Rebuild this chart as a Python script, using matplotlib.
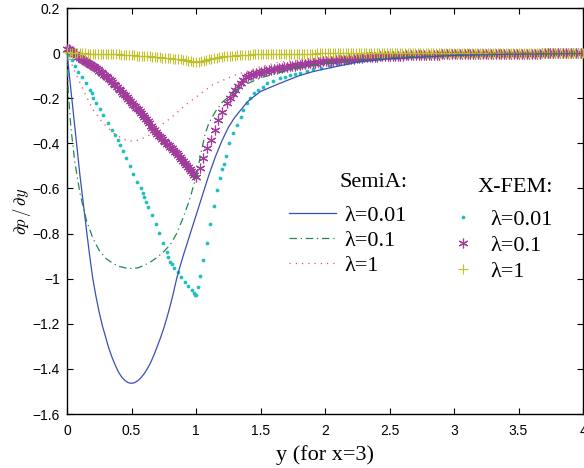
import numpy as np
import matplotlib
matplotlib.use("Agg")
import matplotlib.pyplot as plt
from matplotlib.font_manager import FontProperties

# ---------------- data ----------------
# SemiA (analytical) curves
semi001_x = [0, 0.05, 0.1, 0.15, 0.175,
             0.2, 0.225, 0.25, 0.275, 0.3, 0.325, 0.35, 0.375, 0.4, 0.425,
             0.45, 0.475, 0.5, 0.525, 0.55, 0.575, 0.6, 0.625, 0.65, 0.675,
             0.7, 0.725, 0.75, 0.775, 0.8, 0.825, 0.85, 0.875, 0.9, 0.95,
             1.0, 1.05, 1.1, 1.15, 1.2, 1.25, 1.3,
             1.4, 1.5, 1.65, 1.8, 1.9, 2.0,
             2.25, 2.5, 3.0, 3.5, 4.0]
semi001_y = [0, -0.27, -0.54, -0.78, -0.895,
             -1.0, -1.08, -1.15, -1.21, -1.26, -1.31, -1.35, -1.385, -1.415, -1.437,
             -1.452, -1.461, -1.464, -1.461, -1.452, -1.438, -1.42, -1.397, -1.37, -1.337,
             -1.3, -1.262, -1.22, -1.172, -1.12, -1.063, -1.0, -0.948, -0.9, -0.81,
             -0.72, -0.63, -0.54, -0.46, -0.39, -0.33, -0.285,
             -0.215, -0.17, -0.134, -0.1, -0.083, -0.07,
             -0.04, -0.025, -0.01, -0.004, -0.002]

semi01_x = [0, 0.01, 0.03, 0.06, 0.1, 0.15, 0.2, 0.25, 0.3, 0.35, 0.4, 0.45,
            0.5, 0.55, 0.6, 0.65, 0.7, 0.75, 0.8, 0.85, 0.9, 0.95,
            1.0, 1.04, 1.07, 1.1, 1.15, 1.2, 1.3, 1.4, 1.5, 1.75,
            2.0, 2.5, 3.0, 3.5, 4.0]
semi01_y = [0, -0.17, -0.33, -0.48, -0.62, -0.74, -0.82, -0.875, -0.91, -0.93, -0.945, -0.952,
            -0.955, -0.952, -0.94, -0.925, -0.905, -0.88, -0.85, -0.8, -0.73, -0.65,
            -0.55, -0.44, -0.36, -0.31, -0.26, -0.22, -0.17, -0.135, -0.11, -0.07,
            -0.045, -0.02, -0.008, -0.003, -0.001]

semi1_x = [0, 0.03, 0.075, 0.14, 0.2, 0.28, 0.36, 0.44, 0.5, 0.54, 0.6, 0.64,
           0.7, 0.75, 0.8, 0.85, 0.93, 1.0, 1.13, 1.29, 1.4, 1.5, 1.65, 1.8,
           2.0, 2.5, 3.0, 3.5, 4.0]
semi1_y = [0, -0.04, -0.1, -0.18, -0.25, -0.31, -0.355, -0.382, -0.39, -0.388, -0.375, -0.363,
           -0.335, -0.31, -0.29, -0.265, -0.225, -0.195, -0.14, -0.1, -0.08, -0.06, -0.04, -0.03,
           -0.02, -0.008, -0.003, -0.001, 0]

# X-FEM lambda=0.01 (dots)
fem001_x = [0.0, 0.012, 0.036, 0.062, 0.088, 0.114, 0.147, 0.178, 0.19, 0.204,
            0.225, 0.256, 0.281, 0.315, 0.346, 0.372, 0.398, 0.41, 0.437, 0.457,
            0.485, 0.512, 0.545, 0.571, 0.586, 0.597, 0.612, 0.63, 0.657, 0.687,
            0.713, 0.747, 0.772, 0.786, 0.798, 0.811, 0.832, 0.863, 0.884, 0.915,
            0.94, 0.966, 0.984, 0.995, 1.0, 1.013, 1.03, 1.057, 1.088, 1.112,
            1.138, 1.162, 1.186, 1.2, 1.214, 1.233, 1.258, 1.29, 1.315, 1.346,
            1.367, 1.393, 1.419, 1.45, 1.483, 1.52, 1.553, 1.6, 1.65, 1.69,
            1.73, 1.77, 1.806, 1.86, 1.91, 1.97, 2.04, 2.1, 2.17, 2.22,
            2.27, 2.33, 2.4, 2.47, 2.55, 2.63, 2.72, 2.8, 2.9, 3.0,
            3.1, 3.2, 3.3, 3.4, 3.5, 3.6, 3.7, 3.8, 3.9, 4.0]
fem001_y = [0.0, -0.008, -0.031, -0.058, -0.083, -0.108, -0.134, -0.164, -0.179, -0.197,
            -0.223, -0.25, -0.275, -0.309, -0.341, -0.363, -0.386, -0.408, -0.433, -0.467,
            -0.501, -0.536, -0.57, -0.6, -0.622, -0.637, -0.659, -0.684, -0.718, -0.758,
            -0.799, -0.844, -0.88, -0.906, -0.925, -0.937, -0.952, -0.972, -0.991, -1.014,
            -1.031, -1.05, -1.065, -1.072, -1.074, -1.037, -0.988, -0.918, -0.841, -0.757,
            -0.68, -0.608, -0.553, -0.516, -0.49, -0.455, -0.4, -0.356, -0.319, -0.282,
            -0.253, -0.223, -0.201, -0.179, -0.164, -0.149, -0.134, -0.123, -0.112, -0.104,
            -0.098, -0.091, -0.086, -0.078, -0.072, -0.065, -0.058, -0.05, -0.043, -0.037,
            -0.031, -0.027, -0.023, -0.019, -0.016, -0.013, -0.011, -0.009, -0.007, -0.006,
            -0.005, -0.004, -0.003, -0.003, -0.002, -0.002, -0.001, -0.001, -0.001, 0.0]

# X-FEM lambda=0.1 (asterisks): nodes 0..1 step 0.0125, a few nodes after 1, tail step 0.02
fem01_a_x = np.linspace(0.0, 1.0, 81)
fem01_a_y = [0.02, 0.018, 0.015, 0.01, 0.005, -0.002, -0.01, -0.016, -0.022, -0.027,
             -0.032, -0.036, -0.04, -0.044, -0.048, -0.052, -0.057, -0.062, -0.067, -0.072,
             -0.078, -0.084, -0.09, -0.096, -0.102, -0.108, -0.115, -0.121, -0.128, -0.135,
             -0.142, -0.15, -0.157, -0.165, -0.172, -0.18, -0.187, -0.195, -0.203, -0.212,
             -0.22, -0.228, -0.235, -0.242, -0.25, -0.258, -0.266, -0.275, -0.284, -0.293,
             -0.303, -0.312, -0.322, -0.331, -0.34, -0.349, -0.358, -0.366, -0.374, -0.381,
             -0.388, -0.395, -0.401, -0.408, -0.415, -0.422, -0.43, -0.437, -0.445, -0.452,
             -0.46, -0.468, -0.477, -0.486, -0.495, -0.503, -0.512, -0.521, -0.53, -0.539,
             -0.548]
fem01_b_x = [1.03, 1.057, 1.083, 1.12, 1.147, 1.173, 1.2, 1.238]
fem01_b_y = [-0.511, -0.467, -0.422, -0.386, -0.341, -0.297, -0.26, -0.223]
fem01_c_x = np.linspace(1.265, 3.985, 137)
fem01_c_y = [-0.2, -0.183, -0.165, -0.147, -0.132, -0.12, -0.108, -0.102, -0.097, -0.093,
             -0.09, -0.087, -0.084, -0.081, -0.079, -0.077, -0.074, -0.072, -0.07, -0.068,
             -0.066, -0.063, -0.061, -0.059, -0.057, -0.055, -0.053, -0.051, -0.049, -0.047,
             -0.046, -0.045, -0.043, -0.042, -0.041, -0.039, -0.037, -0.036, -0.035, -0.034,
             -0.033, -0.032, -0.03, -0.029, -0.029, -0.028, -0.027, -0.025, -0.024, -0.023,
             -0.021, -0.02,
             -0.019, -0.018, -0.018, -0.017, -0.016, -0.016, -0.015, -0.014, -0.014, -0.013, -0.013,
             -0.012, -0.012, -0.011, -0.011, -0.011, -0.01, -0.01, -0.01, -0.009, -0.009, -0.009,
             -0.008, -0.008, -0.008, -0.008, -0.007, -0.007, -0.007, -0.007, -0.006, -0.006, -0.006,
             -0.006, -0.005, -0.005, -0.005, -0.005, -0.005, -0.004, -0.004, -0.004, -0.004, -0.004,
             -0.004, -0.003, -0.003, -0.003, -0.003, -0.003, -0.003, -0.003, -0.003, -0.003, -0.002,
             -0.002, -0.002, -0.002, -0.002, -0.002, -0.002, -0.002, -0.002, -0.002, -0.002, -0.002,
             -0.002, -0.002, -0.002, -0.001, -0.001, -0.001, -0.001, -0.001, -0.001, -0.001, -0.001,
             -0.001, -0.001, -0.001, -0.001, -0.001, -0.001, -0.001, -0.001]

# X-FEM lambda=1 (plus), nodes 0..4 step 0.02
fem1_x = np.linspace(0.0, 4.0, 201)
fem1_y = [0.003, 0.002, 0.002, 0.001, 0.0, 0.0, -0.001, -0.001, -0.002, -0.002,
          -0.003, -0.003, -0.003, -0.004, -0.004, -0.004, -0.005, -0.005, -0.006, -0.006,
          -0.006, -0.007, -0.007, -0.008, -0.008, -0.009,
          -0.01, -0.011, -0.011, -0.012, -0.013, -0.014, -0.015, -0.016, -0.017, -0.018,
          -0.019, -0.02, -0.021, -0.022, -0.023, -0.024, -0.025, -0.026, -0.028, -0.03,
          -0.032, -0.034, -0.036, -0.038, -0.04,
          -0.038, -0.035, -0.033, -0.03, -0.028, -0.025, -0.023, -0.021, -0.019, -0.017,
          -0.015, -0.014, -0.013, -0.012, -0.011, -0.01, -0.009, -0.009, -0.008, -0.007,
          -0.007, -0.006, -0.006, -0.006, -0.005,
          -0.005, -0.005, -0.004, -0.004, -0.004, -0.004, -0.004, -0.003, -0.003, -0.003,
          -0.003, -0.003, -0.003, -0.002, -0.002, -0.002, -0.002, -0.002, -0.002, -0.002,
          -0.002, -0.001, -0.001, -0.001, -0.001,
          -0.001, -0.001, -0.001, -0.001, -0.001, -0.001, -0.001, -0.001, -0.001, -0.001,
          -0.001, -0.001, -0.001, -0.001, -0.001, -0.001, -0.001, -0.001, -0.001, -0.001,
          0.0, 0.0, 0.0, 0.0, 0.0, 0.0, 0.0, 0.0, 0.0, 0.0,
          0.0, 0.0, 0.0, 0.0, 0.0, 0.0, 0.0, 0.0, 0.0, 0.0,
          0.0, 0.0, 0.0, 0.0, 0.0, 0.0, 0.0, 0.0, 0.0, 0.0,
          0.0, 0.0, 0.0, 0.0, 0.0, 0.0, 0.0, 0.0, 0.0, 0.0,
          0.0, 0.0, 0.0, 0.0, 0.0, 0.0, 0.0, 0.0, 0.0, 0.0,
          0.0, 0.0, 0.0, 0.0, 0.0, 0.0, 0.0, 0.0, 0.0, 0.0,
          0.0, 0.0, 0.0, 0.0, 0.0, 0.0, 0.0, 0.0, 0.0, 0.0,
          0.0, 0.0, 0.0, 0.0, 0.0, 0.0, 0.0, 0.0, 0.0, 0.0]

labels = ["λ=0.01", "λ=0.1", "λ=1"]
xtick_vals = [0, 0.5, 1, 1.5, 2, 2.5, 3, 3.5, 4]
xtick_labels = ["0", "0.5", "1", "1.5", "2", "2.5", "3", "3.5", "4"]
ytick_vals = [-1.6, -1.4, -1.2, -1.0, -0.8, -0.6, -0.4, -0.2, 0.0, 0.2]
ytick_labels = ["\u22121.6", "\u22121.4", "\u22121.2", "\u22121", "\u22120.8", "\u22120.6",
                "\u22120.4", "\u22120.2", "0", "0.2"]

# ---------------- style ----------------
c_blue = "#3a4fb5"
c_green = "#23874d"
c_red = "#ff4a4a"
c_cyan = "#1fbfbf"
c_mag = "#a23c9c"
c_yel = "#bfbf26"

plt.rcParams['mathtext.fontset'] = 'cm'
serif = FontProperties(family="Liberation Serif", size=16)

fig = plt.figure(figsize=(5.84, 4.68), dpi=100)
ax = fig.add_axes([67 / 584, 54 / 468, 516 / 584, 406 / 468])

star = (6, 2, 0)
h_cyan, = ax.plot(fem001_x, fem001_y, ls="none", marker="o", ms=2.7,
                  mfc=c_cyan, mec="none", clip_on=False, zorder=3)
h_mag, = ax.plot(fem01_a_x, fem01_a_y, ls="none", marker=star, ms=7,
                 mec=c_mag, mfc=c_mag, mew=0.85, clip_on=False, zorder=3)
ax.plot(fem01_b_x, fem01_b_y, ls="none", marker=star, ms=7,
        mec=c_mag, mfc=c_mag, mew=0.85, clip_on=False, zorder=3)
ax.plot(fem01_c_x, fem01_c_y, ls="none", marker=star, ms=7,
        mec=c_mag, mfc=c_mag, mew=0.85, clip_on=False, zorder=3)
h_yel, = ax.plot(fem1_x, fem1_y, ls="none", marker="+", ms=7,
                 mec=c_yel, mew=0.8, clip_on=False, zorder=3)

h_blue, = ax.plot(semi001_x, semi001_y, color=c_blue, lw=0.9, zorder=4)
h_green, = ax.plot(semi01_x, semi01_y, color=c_green, lw=0.9, dashes=(6, 3, 1, 3), zorder=4)
h_red, = ax.plot(semi1_x, semi1_y, color=c_red, lw=0.9, dashes=(1, 4), zorder=4)

ax.set_xlim(0, 4)
ax.set_ylim(-1.6, 0.2)
ax.set_xticks(xtick_vals)
ax.set_xticklabels(xtick_labels)
ax.set_yticks(ytick_vals)
ax.set_yticklabels(ytick_labels)
ax.tick_params(direction="in", top=True, right=True, length=4, width=0.8)
ax.tick_params(axis="x", pad=7)
ax.tick_params(axis="y", pad=5)
for lab in ax.get_xticklabels() + ax.get_yticklabels():
    lab.set_fontfamily("Liberation Sans")
    lab.set_fontsize(10)
for s in ax.spines.values():
    s.set_linewidth(1.0)

ax.set_xlabel("y (for x=3)", fontproperties=serif, labelpad=5)
ax.set_ylabel(r"$\partial p\,/\,\partial y$", fontsize=12)
ax.yaxis.set_label_coords(-0.066, 0.5)

leg1 = ax.legend([h_blue, h_green, h_red], labels, title="SemiA:",
                 loc="upper right", bbox_to_anchor=(0.659, 0.594),
                 frameon=False, prop=serif, title_fontproperties=serif,
                 alignment="right", handlelength=2.1, handletextpad=0.4,
                 labelspacing=0.2, borderpad=0, borderaxespad=0)
leg1._legend_box.sep = 9.7
ax.add_artist(leg1)
leg2 = ax.legend([h_cyan, h_mag, h_yel], labels, title="X-FEM:",
                 loc="upper right", bbox_to_anchor=(0.942, 0.581),
                 frameon=False, prop=serif, title_fontproperties=serif,
                 alignment="right", handlelength=1.7, handletextpad=0.4,
                 labelspacing=0.24, borderpad=0, borderaxespad=0)
leg2._legend_box.sep = 9.0

fig.savefig("out.png", dpi=100)
